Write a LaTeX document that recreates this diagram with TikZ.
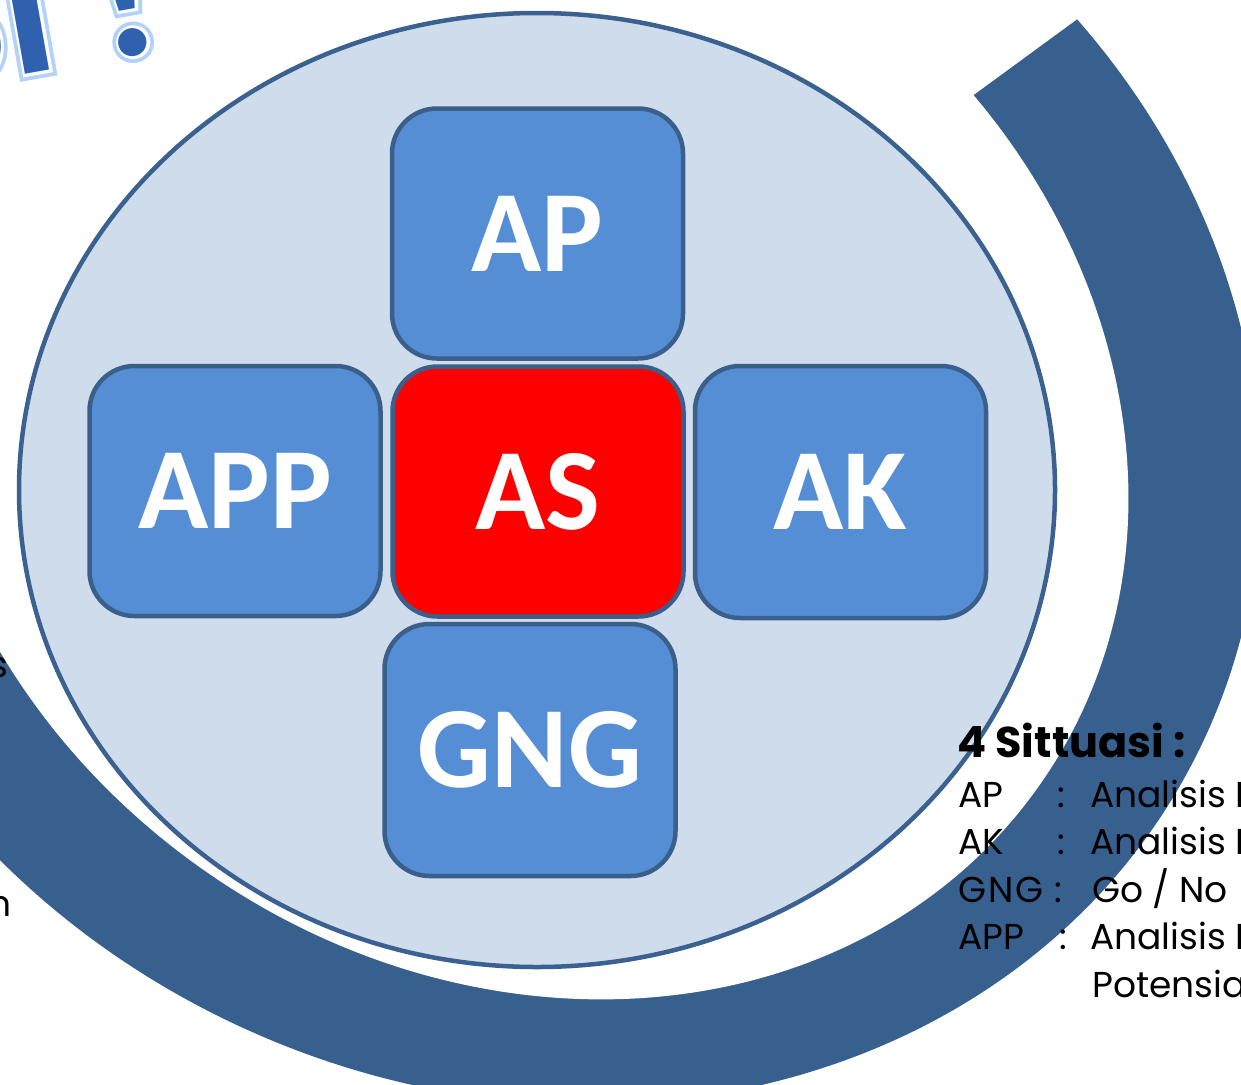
\documentclass[tikz,border=0pt]{standalone}
\usepackage{fontspec}
\setmainfont{Carlito}
\newfontfamily\gothic{Poppins}
\newfontfamily\waglowfont{Carlito}[BoldFeatures={FakeBold=7}]
\newfontfamily\walinefont{Carlito}[BoldFeatures={FakeBold=3}]
\definecolor{bandc}{HTML}{37608F}
\definecolor{ellfill}{HTML}{CFDCEC}
\definecolor{ellline}{HTML}{3B6191}
\definecolor{boxfill}{HTML}{558ED5}
\definecolor{boxline}{HTML}{3A5F8B}
\definecolor{redbox}{HTML}{FF0000}
\definecolor{wablue}{HTML}{2F62AE}
\definecolor{waglowc}{HTML}{B3D2F8}
\tikzset{
  box/.style={draw=boxline, line width=4.5pt, fill=boxfill, rounded corners=45pt,
    minimum width=291pt, minimum height=250pt, inner sep=0pt, text=white,
    font=\bfseries\fontsize{116}{116}\selectfont},
  gtxt/.style={anchor=base west, inner sep=0pt, text=black,
    font=\gothic\fontsize{36}{36}\selectfont},
  gtitle/.style={anchor=base west, inner sep=0pt, text=black,
    font=\gothic\bfseries\fontsize{43}{43}\selectfont},
  wa/.style={anchor=base west, inner sep=0pt, rotate=10}
}
\begin{document}
\begin{tikzpicture}[x=1pt,y=-1pt]
\useasboundingbox (0,0) rectangle (1241,1084);
\clip (0,0) rectangle (1241,1084);
% dark arc band
\begin{scope}
  \clip (520,427) -- (1705,-440) -- (1705,1300) -- (-300,1300) -- (-300,427) -- cycle;
  \fill[bandc, rotate around={-25:(520,420)}] (520,420) ellipse [x radius=755pt, y radius=668pt];
\end{scope}
\fill[white, rotate around={-35:(520,420)}] (520,420) ellipse [x radius=635pt, y radius=550pt];
% word art (partial)
\node[wa, font=\waglowfont\bfseries\fontsize{190}{190}\selectfont, text=waglowc] (wa1) at (-76,92) {SI !};
\node[wa, font=\walinefont\bfseries\fontsize{190}{190}\selectfont, text=white] (wa2) at (-76,92) {SI !};
\node[wa, font=\bfseries\fontsize{190}{190}\selectfont, text=wablue] (wa3) at (-76,92) {SI !};
% light ellipse
\draw[ellline, line width=4.5pt, fill=ellfill] (537,490) ellipse [x radius=518pt, y radius=477pt];
% boxes
\node[box] (ap) at (537.5,233.5) {AP};
\node[box] (app) at (235,491) {APP};
\node[box, minimum height=252pt] (ak) at (840.5,492) {AK};
\node[box, minimum height=252pt] (gng) at (530,750) {GNG};
\node[box, fill=redbox] (as) at (538,491.5) {AS};
% left fragments
\node[gtxt, anchor=base east] (fs) at (8,677) {s};
\node[gtxt, anchor=base east] (fn) at (12,916) {n};
% legend
\node[gtitle] (title) at (957,757) {4 Sittuasi :};
\node[gtxt] (l1a) at (958,807) {AP};
\node[gtxt] (l1b) at (1057,807) {:};
\node[gtxt] (l1c) at (1090,807) {Analisis P};
\node[gtxt] (l2a) at (958,854) {AK};
\node[gtxt] (l2b) at (1057,854) {:};
\node[gtxt] (l2c) at (1090,854) {Analisis K};
\node[gtxt, font=\gothic\fontsize{36}{36}\selectfont\addfontfeature{LetterSpace=6}] (l3a) at (958,902) {GNG};
\node[gtxt] (l3b) at (1054,902) {:};
\node[gtxt] (l3c) at (1092,902) {Go / No};
\node[gtxt] (l4a) at (958,949) {APP};
\node[gtxt] (l4b) at (1059,949) {:};
\node[gtxt] (l4c) at (1090,949) {Analisis P};
\node[gtxt] (l5c) at (1092,997) {Potensia};
\end{tikzpicture}
\end{document}
